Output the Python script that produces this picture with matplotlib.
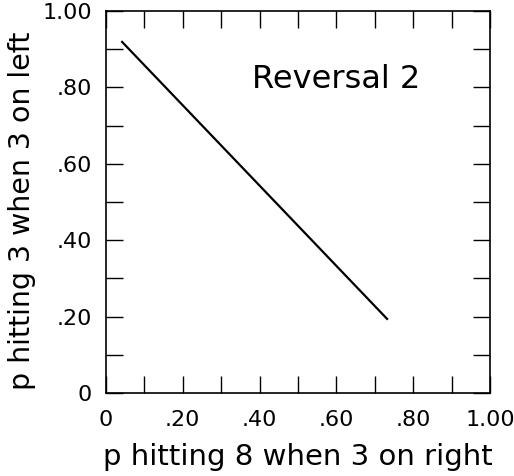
import matplotlib
matplotlib.use("Agg")
import matplotlib.pyplot as plt
import numpy as np

# estimated endpoints of the fitted line
p_right = [0.042, 0.732]
p_left = [0.919, 0.194]

ticks = [0, 0.2, 0.4, 0.6, 0.8, 1.0]
tick_labels = ['0', '.20', '.40', '.60', '.80', '1.00']

plt.rcParams['font.family'] = ['DejaVu Sans']

fig = plt.figure(figsize=(5.14, 4.76), dpi=100)
ax = fig.add_axes([106/514, 1 - 393/476, 384/514, 382/476])

ax.plot(p_right, p_left, color='black', linewidth=1.6)

ax.set_xlim(0, 1)
ax.set_ylim(0, 1)
ax.set_xticks(ticks)
ax.set_xticklabels(tick_labels)
ax.set_yticks(ticks)
ax.set_yticklabels(tick_labels)
ax.set_xticks(np.arange(0.1, 1.0, 0.2), minor=True)
ax.set_yticks(np.arange(0.1, 1.0, 0.2), minor=True)
ax.tick_params(which='both', direction='in', top=True, right=True,
               length=12, width=1, labelsize=16)
ax.tick_params(axis='x', pad=12)
ax.tick_params(axis='y', pad=10)
for s in ax.spines.values():
    s.set_linewidth(1.2)

ax.text(0.38, 0.82, 'Reversal 2', fontsize=23, va='center', ha='left')

ax.set_xlabel('p hitting 8 when 3 on right', fontsize=21)
ax.xaxis.set_label_coords(0.5, -50/382)
ax.set_ylabel('p hitting 3 when 3 on left', fontsize=20.5)
ax.yaxis.set_label_coords(-70/384, 0.476)

fig.savefig('out.png', dpi=100)
